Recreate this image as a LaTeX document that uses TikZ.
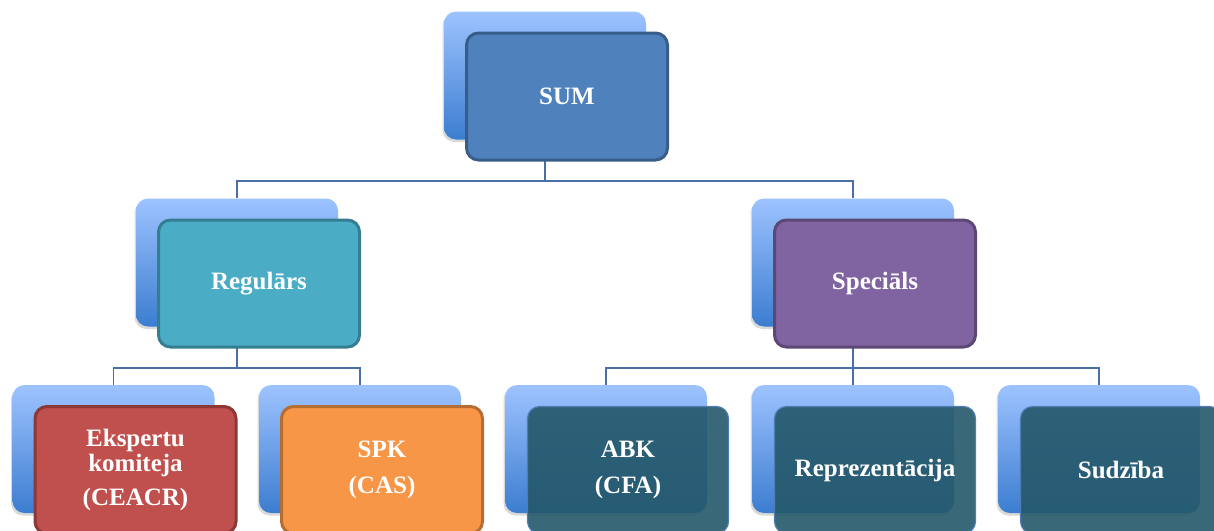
\documentclass[tikz,border=0pt]{standalone}
\usepackage{fontspec}
\setmainfont{Liberation Serif}
\usetikzlibrary{shadows,backgrounds}

\definecolor{backtop}{RGB}{157,195,255}
\definecolor{backbot}{RGB}{60,125,208}
\definecolor{lnk}{RGB}{72,112,166}
\definecolor{sumfill}{RGB}{79,129,189}
\definecolor{sumline}{RGB}{56,93,138}
\definecolor{regfill}{RGB}{75,172,198}
\definecolor{regline}{RGB}{53,125,145}
\definecolor{specfill}{RGB}{128,100,162}
\definecolor{specline}{RGB}{92,71,118}
\definecolor{expfill}{RGB}{192,80,77}
\definecolor{expline}{RGB}{140,56,54}
\definecolor{spkfill}{RGB}{247,150,70}
\definecolor{spkline}{RGB}{182,109,49}
\definecolor{drkfill}{RGB}{36,88,106}
\definecolor{drkline}{RGB}{79,125,180}

\begin{document}
\begin{tikzpicture}[x=1pt,y=-1pt,font=\fontsize{25}{25}\selectfont\bfseries]
	\tikzstyle{bk}=[rectangle, rounded corners=12pt, minimum width=202pt, minimum height=128pt, inner sep=0pt, top color=backtop, bottom color=backbot, drop shadow={shadow xshift=-1.5pt, shadow yshift=-2.5pt, opacity=.3}]
	\tikzstyle{fr}=[rectangle, rounded corners=12pt, minimum width=201pt, minimum height=127pt, inner sep=0pt, line width=3pt, text=white, align=center, xshift=22pt, yshift=-21pt]
	\tikzstyle{sumc}=[fill=sumfill, draw=sumline]
	\tikzstyle{regc}=[fill=regfill, draw=regline]
	\tikzstyle{specc}=[fill=specfill, draw=specline]
	\tikzstyle{expc}=[fill=expfill, draw=expline]
	\tikzstyle{spkc}=[fill=spkfill, draw=spkline]
	\tikzstyle{drk}=[fill=drkfill, fill opacity=.9, text opacity=1, draw=drkline, line width=1.2pt]
	\tikzstyle{conn}=[draw=lnk, line width=1.8pt]

	\useasboundingbox (0,0) rectangle (1214,530);
	\clip (0,0) rectangle (1214,530);

	% back boxes
	\node[bk] (sumb) at (545,75.5) {};
	\node[bk] (regb) at (237,262.5) {};
	\node[bk] (specb) at (853,262.5) {};
	\node[bk] (expb) at (113.5,449) {};
	\node[bk] (spkb) at (360,449) {};
	\node[bk] (abkb) at (606,449) {};
	\node[bk] (repb) at (853,449) {};
	\node[bk] (sudb) at (1099,449) {};

	\begin{scope}[on background layer]
		\foreach \from/\to in {sumb/regb,sumb/specb,regb/expb,regb/spkb,specb/abkb,specb/repb,specb/sudb}
		\draw[conn] (\from.south) -- ++(0,41.5) -| (\to.north);
	\end{scope}

	% front boxes
	\node[fr,sumc] (sum) at (sumb) {SUM};
	\node[fr,regc] (reg) at (regb) {Regulārs};
	\node[fr,specc] (spec) at (specb) {Speciāls};
	\node[fr,expc] (exp) at (expb) {Ekspertu\\komiteja\\[9pt](CEACR)};
	\node[fr,spkc] (spk) at (spkb) {SPK\\[11pt](CAS)};
	\node[fr,drk] (abk) at (abkb) {ABK\\[11pt](CFA)};
	\node[fr,drk] (rep) at (repb) {Reprezentācija};
	\node[fr,drk] (sud) at (sudb) {Sudzība};
\end{tikzpicture}
\end{document}
